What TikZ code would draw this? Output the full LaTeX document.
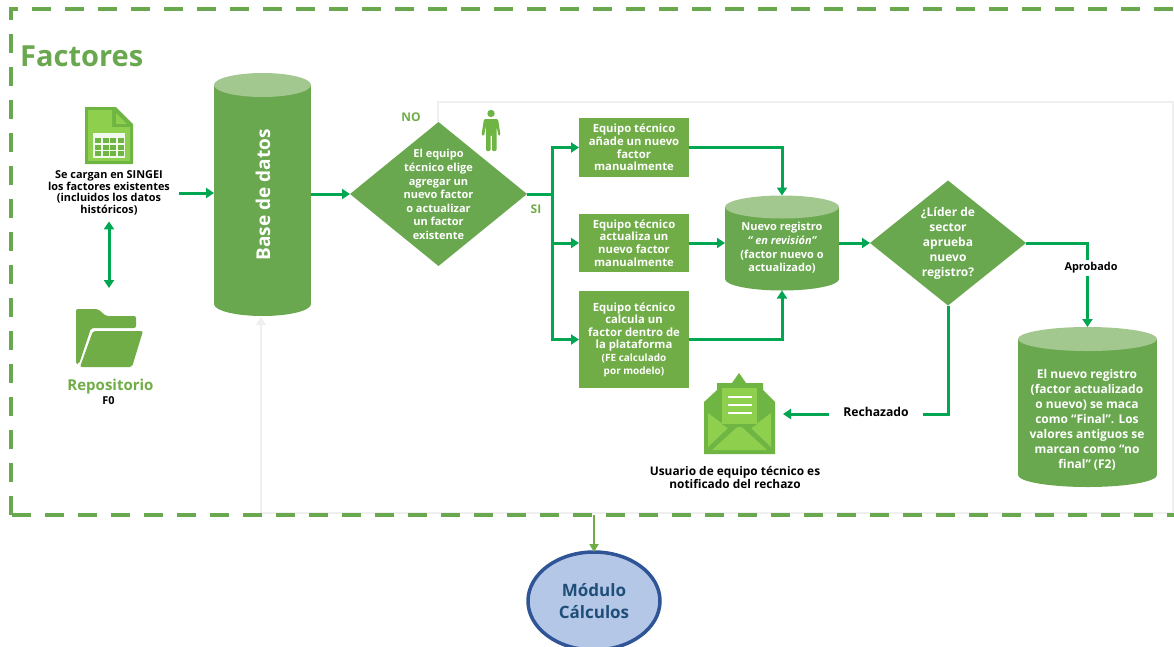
\documentclass[tikz,border=0pt]{standalone}
\usepackage{fontspec}
\setmainfont{Open Sans}
\usetikzlibrary{arrows.meta,shapes.geometric}
\definecolor{gmain}{HTML}{6AA84F}
\definecolor{gtop}{HTML}{A3C88F}
\definecolor{gbox}{HTML}{70AD47}
\definecolor{gline}{HTML}{00A651}
\definecolor{glight}{HTML}{8FCF4E}
\definecolor{gicon}{HTML}{6FB544}
\definecolor{gback}{HTML}{EFEFEF}
\definecolor{bfill}{HTML}{B4C7E7}
\definecolor{bedge}{HTML}{2F5597}
\definecolor{btext}{HTML}{1F4E79}
\newcommand{\cylshape}[5]{% cx, top, bottom, rx, ry
  \pgfmathsetmacro{\cyT}{#2+#5}\pgfmathsetmacro{\cyB}{#3-#5}
  \pgfmathsetmacro{\cyL}{#1-#4}\pgfmathsetmacro{\cyR}{#1+#4}
  \fill[gmain] (\cyL,\cyT) rectangle (\cyR,\cyB);
  \fill[gmain] (#1,\cyB) ellipse [x radius=#4,y radius=#5];
  \fill[gtop] (#1,\cyT) ellipse [x radius=#4,y radius=#5];
}
\tikzset{
  cyl/.style={shape=rectangle,inner sep=0pt,outer sep=0pt,draw=none},
  dec/.style={shape=diamond,fill=gmain,inner sep=0pt,outer sep=0pt},
  boxg/.style={fill=gbox,minimum width=110pt,inner sep=0pt,outer sep=0pt,text=white,font=\bfseries\fontsize{11.3}{12.6}\selectfont,align=center},
  txw/.style={text=white,font=\bfseries\fontsize{11}{13.6}\selectfont,align=center,inner sep=0pt},
  txk/.style={text=black,font=\bfseries\fontsize{10.9}{11.6}\selectfont,align=center,inner sep=0pt},
  conn/.style={draw=gline,line width=3pt,-{Triangle[length=8pt,width=10pt]}},
  plainconn/.style={draw=gline,line width=3pt},
  back/.style={draw=gback,line width=2.6pt},
  frame/.style={draw=gmain,line width=4pt,dash pattern=on 19pt off 14pt},
  icon/.style={inner sep=0pt,outer sep=0pt},
}
\begin{document}
\begin{tikzpicture}[x=1pt,y=-1pt]
\useasboundingbox (0,0) rectangle (1174,646);
\fill[white] (0,0) rectangle (1174,646);
% feedback loop
\draw[back] (438,122) -- (438,102) -- (1173,102) -- (1173,513) -- (261,513) -- (261,322);
\fill[gback] (261,317) -- (256,325) -- (266,325) -- cycle;
% frame
\draw[frame,dash phase=8pt] (11,9) -- (11,515);
\draw[frame,dash phase=10pt] (9,9) -- (1174,9);
\draw[frame] (12,515) -- (1174,515);
\node[text=gmain,font=\bfseries\fontsize{29}{32}\selectfont,anchor=west,inner sep=0pt] (title) at (20,56) {Factores};
% spreadsheet icon
\node[icon,minimum width=48pt,minimum height=57pt] (sheet) at (109,135.5) {};
\fill[gicon] (85,107) -- (116,107) -- (133,124) -- (133,164) -- (85,164) -- cycle;
\fill[glight] (88,110) -- (112,110) -- (112,127) -- (130,127) -- (130,133) -- (88,133) -- cycle;
\fill[glight] (116,113) -- (127,124) -- (116,124) -- cycle;
\fill[glight] (88,133) rectangle (93,161);
\fill[glight] (125,133) rectangle (130,161);
\fill[glight] (88,157) rectangle (130,161);
\fill[white!90!gicon] (93,133) rectangle (125,158);
\foreach \c in {0,1,2,3} \foreach \r in {0,1,2}
  \fill[gicon] (95+\c*7.5,138+\r*6.5) rectangle ++(6,5);
% load text
\node[txk] (load) at (109,193) {Se cargan en SINGEI\\los factores existentes\\(incluidos los datos\\históricos)};
% folder icon
\node[icon,minimum width=67pt,minimum height=58pt] (folder) at (110,338) {};
\fill[gbox,rounded corners=2pt] (76,309) -- (98,309) -- (106,316) -- (136,316) -- (136,328) -- (91,328) -- (79,364) -- (76,364) -- cycle;
\fill[gbox,rounded corners=2pt] (93,331) -- (143,331) -- (132,367) -- (80,367) -- cycle;
\node[text=gbox,font=\bfseries\fontsize{15}{17}\selectfont,inner sep=0pt] (repo) at (110.5,386.5) {Repositorio};
\node[txk] (f0) at (108.5,400.5) {F0};
\draw[conn,{Triangle[length=8pt,width=10pt]}-{Triangle[length=8pt,width=10pt]},shorten <=6pt,shorten >=21pt] (load.south) -- (load.south |- folder.north);
% data base
\cylshape{262.5}{73}{316}{48.5}{12}
\node[cyl,minimum width=97pt,minimum height=243pt] (base) at (262.5,194.5) {};
\node[text=white,font=\bfseries\fontsize{19}{22}\selectfont,rotate=90,inner sep=0pt] (baset) at (263,195) {Base de datos};
\draw[conn,shorten <=9pt] (load.east) -- (base.west |- load.east);
% decision 1
\node[dec,minimum width=177pt,minimum height=144pt] (d1) at (438.5,194) {};
\node[txw] (d1t) at (438.5,194.5) {El equipo\\técnico elige\\agregar un\\nuevo factor\\o actualizar\\un factor\\existente};
\draw[conn] (base.east |- d1.west) -- (d1.west);
\node[text=gbox,font=\bfseries\fontsize{12}{14}\selectfont,inner sep=0pt] (no) at (411,117) {NO};
\node[text=gbox,font=\bfseries\fontsize{12}{14}\selectfont,inner sep=0pt] (si) at (536,209) {SI};
% person
\fill[gicon] (491,113.5) circle (3.7);
\fill[gicon,rounded corners=1.2pt] (484,119) -- (498,119) -- (500.5,135) -- (498.5,136) -- (496.5,126) -- (496.5,151) -- (492,151) -- (492,135) -- (490.5,135) -- (490.5,151) -- (486,151) -- (486,126) -- (484,136) -- (481.5,135) -- cycle;
% boxes
\node[boxg,minimum height=59pt] (b1) at (634,147.5) {Equipo técnico\\añade un nuevo\\factor\\manualmente};
\node[boxg,minimum height=58pt] (b2) at (634,243) {Equipo técnico\\actualiza un\\nuevo factor\\manualmente};
\node[boxg,minimum height=97pt] (b3) at (634,339.5) {Equipo técnico\\calcula un\\factor dentro de\\la plataforma\\{\fontsize{10}{12.4}\selectfont (FE calculado}\\{\fontsize{10}{12.4}\selectfont por modelo)}};
\coordinate (trunk) at (552,194);
\draw[plainconn] (d1.east) -- (trunk);
\draw[conn] (trunk) |- (b1.west);
\draw[conn] (trunk) |- (b2.west);
\draw[conn] (trunk) |- (b3.west);
% review cylinder
\cylshape{782}{195.5}{290.5}{57}{11.5}
\node[cyl,minimum width=114pt,minimum height=95pt] (c2) at (782,243) {};
\node[txw,font=\bfseries\fontsize{11}{13.6}\selectfont] (c2t) at (782,248) {Nuevo registro\\{\itshape “ en revisión”}\\(factor nuevo o\\actualizado)};
\draw[conn] (b1.east) -| (c2.north);
\draw[conn] (b2.east) -- (c2.west);
\draw[conn] (b3.east) -| (c2.south);
% decision 2
\node[dec,minimum width=156pt,minimum height=125pt] (d2) at (948,243) {};
\node[txw,font=\bfseries\fontsize{12}{15}\selectfont] (d2t) at (948,243) {¿Líder de\\sector\\aprueba\\nuevo\\registro?};
\draw[conn] (c2.east) -- (d2.west);
% final cylinder
\cylshape{1087.5}{327}{487}{69.5}{12}
\node[cyl,minimum width=139pt,minimum height=160pt] (c3) at (1087.5,407) {};
\node[txw,font=\bfseries\fontsize{12}{15}\selectfont] (c3t) at (1087,420) {El nuevo registro\\(factor actualizado\\o nuevo) se maca\\como “Final”. Los\\valores antiguos se\\marcan como “no\\final” (F2)};
\draw[conn] (d2.east) -| (c3.north);
\node[fill=white,text=black,font=\bfseries\fontsize{10.9}{12}\selectfont,inner xsep=0pt,inner ysep=3pt,minimum width=56pt] (apr) at (1091,268) {Aprobado};
% mail
\node[icon,minimum width=72pt,minimum height=82pt] (mail) at (739,414) {};
\fill[gicon] (704,454) -- (704,402) -- (717,390) -- (717,383) -- (732,383) -- (739,373) -- (746,383) -- (763,383) -- (763,390) -- (775,402) -- (775,454) -- cycle;
\fill[glight] (722,388) rectangle (757,424);
\foreach \yy in {397,405,413} \draw[white,line width=1.2pt] (728,\yy) -- (752,\yy);
\fill[glight] (708,413) -- (728,428) -- (708,447) -- cycle;
\fill[glight] (771,413) -- (751,428) -- (771,447) -- cycle;
\fill[glight] (712,450) -- (735,429) .. controls (738,426) and (741,426) .. (744,429) -- (767,450) -- cycle;
\fill[gicon] (722,424) -- (739,424) -- (757,424) -- (751,428) -- (744,426) -- (735,426) -- (728,428) -- cycle;
\node[txk,font=\bfseries\fontsize{11.9}{13}\selectfont] (mailt) at (735,477) {Usuario de equipo técnico es\\notificado del rechazo};
% rejected
\draw[conn,shorten >=8pt] (d2.south) |- (mail.east |- 0,414);
\node[fill=white,text=black,font=\bfseries\fontsize{12.2}{14}\selectfont,inner xsep=14pt,inner ysep=4pt] (rej) at (876,412) {Rechazado};
% modulo
\coordinate (exit) at (594,515);
\node[ellipse,draw=bedge,line width=3.5pt,fill=bfill,minimum width=132pt,minimum height=98pt,inner sep=0pt,outer sep=0pt,text=btext,font=\bfseries\fontsize{17}{22}\selectfont,align=center] (mod) at (594,601) {Módulo\\Cálculos};
\draw[draw=gbox,line width=2.5pt,-{Triangle[length=8pt,width=9pt]}] (exit) -- (mod.north);
\end{tikzpicture}
\end{document}
